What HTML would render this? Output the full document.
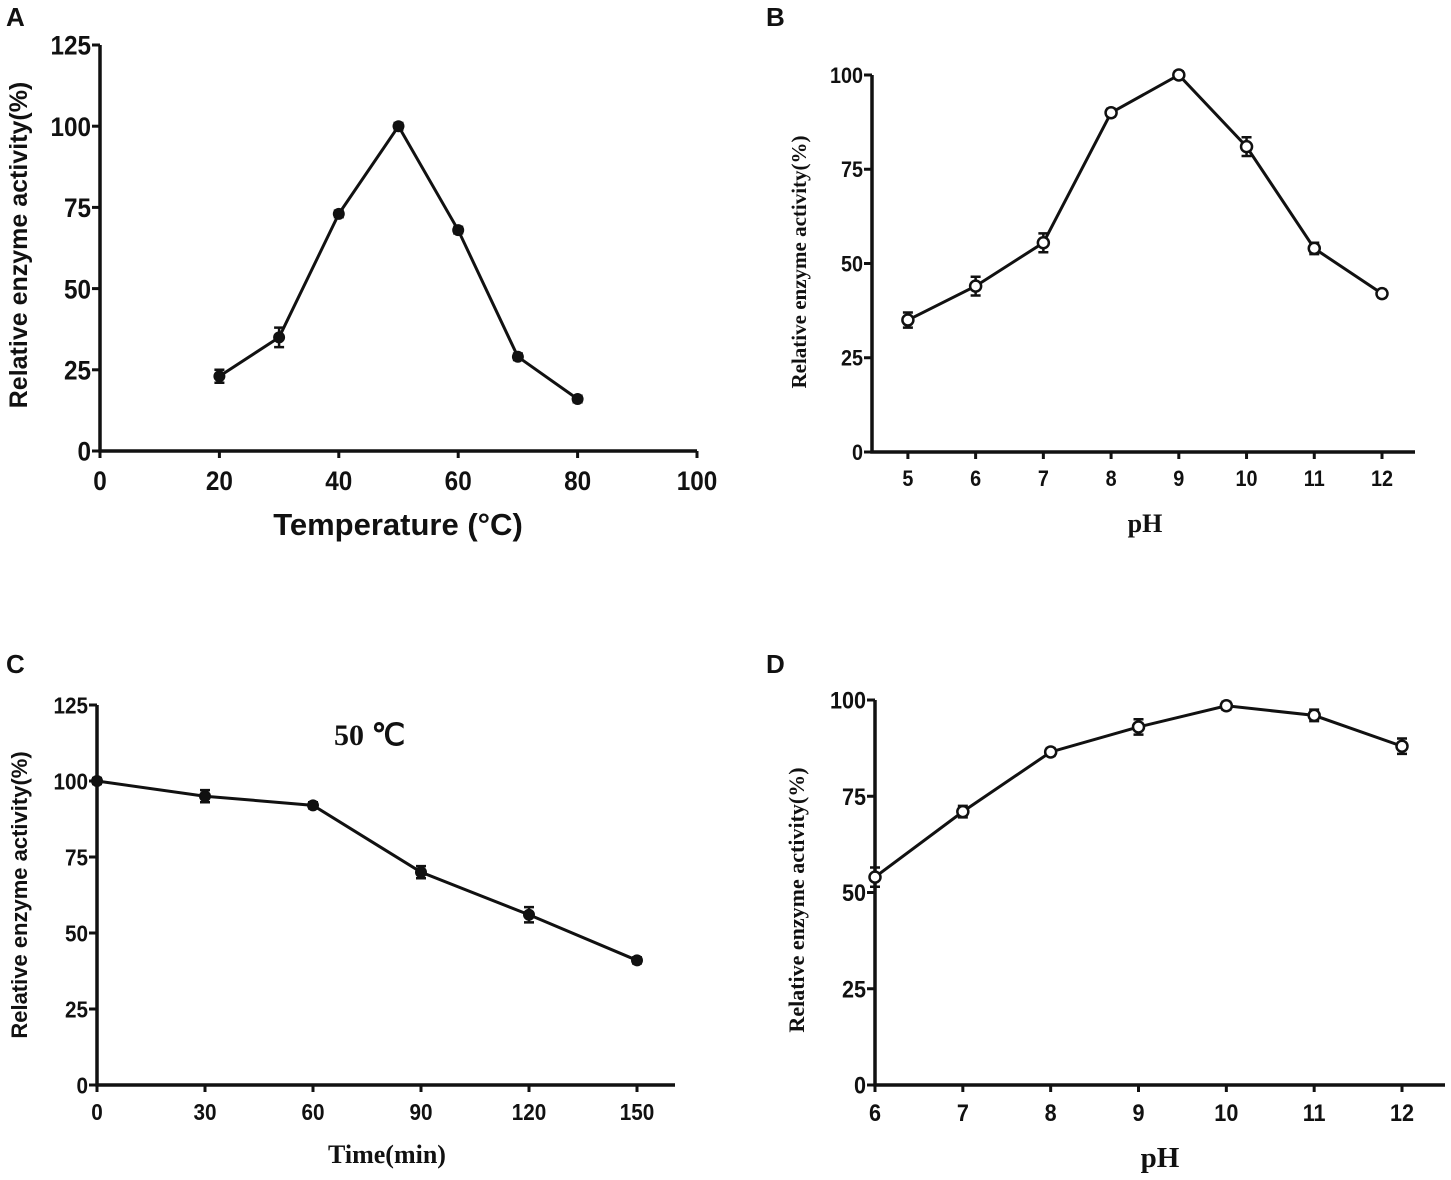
<!DOCTYPE html>
<html><head><meta charset="utf-8"><style>
body{margin:0;background:#fff}
svg{display:block}
text{fill:#111}
.t{font-family:"Liberation Sans",sans-serif;font-weight:bold}
.s{font-family:"Liberation Serif",serif;font-weight:bold}
</style></head><body>
<svg id="fig" width="1451" height="1180" viewBox="0 0 1451 1180" xmlns="http://www.w3.org/2000/svg"></svg>
<script>
// Panel A
const aX=[20,30,40,50,60,70,80];
const aY=[23,35,73,100,68,29,16];
const aErr=[2,3,1,1,1,1,1];
const aXTicks=[0,20,40,60,80,100];
const aYTicks=[0,25,50,75,100,125];
// Panel B
const bX=[5,6,7,8,9,10,11,12];
const bY=[35,44,55.5,90,100,81,54,42];
const bErr=[2,2.5,2.5,1,1,2.5,1.5,1];
const bXTicks=[5,6,7,8,9,10,11,12];
const bYTicks=[0,25,50,75,100];
// Panel C
const cX=[0,30,60,90,120,150];
const cY=[100,95,92,70,56,41];
const cErr=[1,2,1,2,2.5,1];
const cXTicks=[0,30,60,90,120,150];
const cYTicks=[0,25,50,75,100,125];
// Panel D
const dX=[6,7,8,9,10,11,12];
const dY=[54,71,86.5,93,98.5,96,88];
const dErr=[2.5,1.5,1,2,1,1.5,2];
const dXTicks=[6,7,8,9,10,11,12];
const dYTicks=[0,25,50,75,100];

const svg=document.getElementById('fig');
const NS='http://www.w3.org/2000/svg';
function mk(tag,attrs,parent){const e=document.createElementNS(NS,tag);for(const k in attrs)e.setAttribute(k,attrs[k]);parent.appendChild(e);return e;}

function panel(p){
  const g=mk('g',{},svg);
  
  
  const sx=v=>p.x0+(v-p.xmin)/(p.xmax-p.xmin)*(p.x1-p.x0);
  const sy=v=>p.y0-(v-p.ymin)/(p.ymax-p.ymin)*(p.y0-p.y1);
  const ax=mk('path',{d:`M${p.x0} ${p.y1}V${p.y0}H${p.xend}`,stroke:'#111','stroke-width':3.5,fill:'none'},g);
  
  
  p.yt.forEach(v=>{
    mk('line',{x1:p.x0-8,x2:p.x0,y1:sy(v),y2:sy(v),stroke:'#111','stroke-width':3},g);
    const t=mk('text',{x:p.x0-9,y:sy(v)+p.tf*0.36,'text-anchor':'end','font-size':p.tf,class:'t',transform:`translate(${p.x0-9},0) scale(0.9,1) translate(${-(p.x0-9)},0)`},g);
    t.textContent=v;
    
    
  });
  p.xt.forEach(v=>{
    mk('line',{x1:sx(v),x2:sx(v),y1:p.y0,y2:p.y0+7,stroke:'#111','stroke-width':3},g);
    const t=mk('text',{x:sx(v),y:p.y0+p.tf+12,'text-anchor':'middle','font-size':p.tf,class:'t',transform:`translate(${sx(v)},0) scale(0.9,1) translate(${-sx(v)},0)`},g);
    t.textContent=v;
    
    
  });
  const line=mk('polyline',{points:p.xs.map((v,i)=>sx(v)+','+sy(p.ys[i])).join(' '),fill:'none',stroke:'#111','stroke-width':3},g);
  
  
  p.xs.forEach((v,i)=>{
    const cx=sx(v),cy=sy(p.ys[i]),e1=sy(p.ys[i]+p.err[i]),e2=sy(p.ys[i]-p.err[i]);
    mk('path',{d:`M${cx} ${e1}V${e2}M${cx-5} ${e1}H${cx+5}M${cx-5} ${e2}H${cx+5}`,stroke:'#111','stroke-width':2.5},g);
    const c=mk('circle',{cx:cx,cy:cy,r:5.5,fill:p.open?'#fff':'#111',stroke:'#111','stroke-width':p.open?2.5:1},g);
    
    
  });
  const xt=mk('text',{x:p.xtx,y:p.xty,'text-anchor':'middle','font-size':p.xtf,class:p.xcls},g);
  xt.textContent=p.xtitle;
  
  
  const yt=mk('text',{x:0,y:0,transform:`translate(${p.ytx},${p.yty}) rotate(-90)`,'text-anchor':'middle','font-size':p.ytf,class:p.ycls},g);
  yt.textContent='Relative enzyme activity(%)';
  
  
  const lb=mk('text',{x:p.lx,y:p.ly,'font-size':26,class:'t'},g);
  lb.textContent=p.label;
  
  
}

panel({name:'panel-a-temperature',label:'A',lx:6,ly:26,x0:100,x1:697,xend:697,xmin:0,xmax:100,y0:451,y1:45,ymin:0,ymax:125,
  xs:aX,ys:aY,err:aErr,xt:aXTicks,yt:aYTicks,tf:27,open:false,
  xtitle:'Temperature (°C)',xtx:398,xty:535,xtf:31,xcls:'t',ytx:27,yty:245,ytf:25,ycls:'t'});
panel({name:'panel-b-ph',label:'B',lx:766,ly:26,x0:872,x1:1382,xend:1415,xmin:4.47,xmax:12,y0:452,y1:75,ymin:0,ymax:100,
  xs:bX,ys:bY,err:bErr,xt:bXTicks,yt:bYTicks,tf:22,open:true,
  xtitle:'pH',xtx:1145,xty:532,xtf:26,xcls:'s',ytx:806,yty:262,ytf:21,ycls:'s'});
panel({name:'panel-c-thermostability',label:'C',lx:6,ly:673,x0:97,x1:637,xend:675,xmin:0,xmax:150,y0:1085,y1:705,ymin:0,ymax:125,
  xs:cX,ys:cY,err:cErr,xt:cXTicks,yt:cYTicks,tf:23,open:false,
  xtitle:'Time(min)',xtx:387,xty:1163,xtf:26,xcls:'s',ytx:27,yty:895,ytf:22,ycls:'t'});
panel({name:'panel-d-ph-stability',label:'D',lx:766,ly:673,x0:875,x1:1402,xend:1445,xmin:6,xmax:12,y0:1085,y1:700,ymin:0,ymax:100,
  xs:dX,ys:dY,err:dErr,xt:dXTicks,yt:dYTicks,tf:24,open:true,
  xtitle:'pH',xtx:1160,xty:1167,xtf:29,xcls:'s',ytx:804,yty:900,ytf:22,ycls:'s'});
const ann=mk('text',{x:334,y:745,'font-size':30,class:'s'},svg);
ann.textContent='50  ℃';


</script>
</body></html>
